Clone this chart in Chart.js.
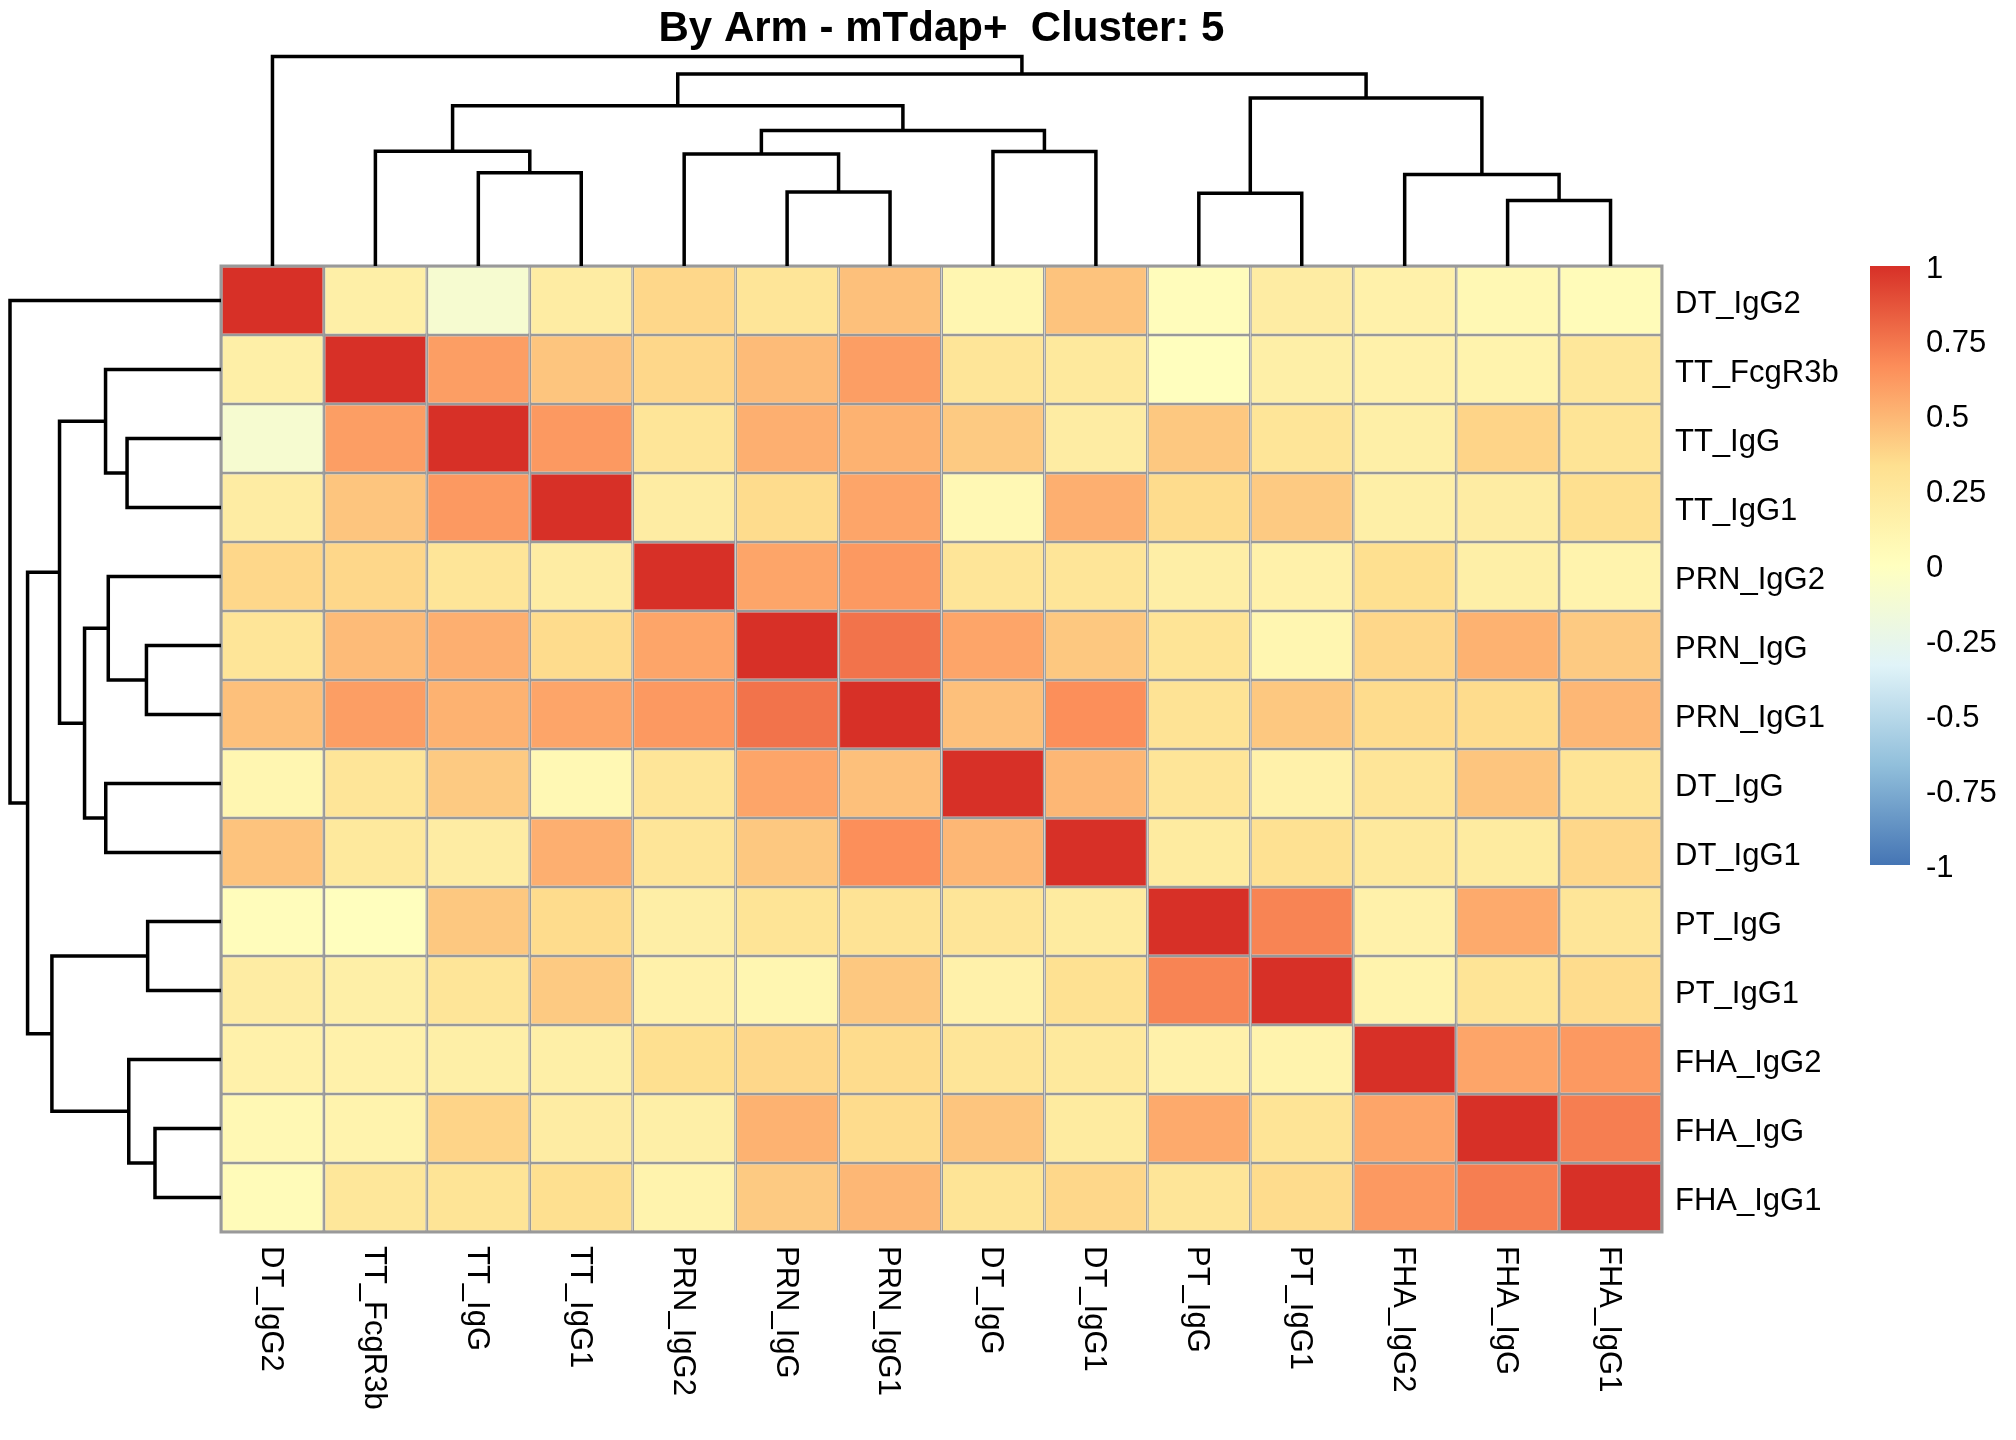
<!DOCTYPE html>
<html>
<head>
<meta charset="utf-8">
<script src="https://cdn.jsdelivr.net/npm/chart.js@4.4.1/dist/chart.umd.min.js"></script>
<style>
  html, body { margin: 0; padding: 0; background: #ffffff; }
  #wrap { position: relative; width: 2016px; height: 1440px; background: #ffffff; }
  #wrap canvas { position: absolute; left: 0; top: 0; }
</style>
</head>
<body>
<div id="wrap">
  <canvas id="heat" width="2016" height="1440"></canvas>
  <canvas id="dendTop" width="2016" height="290"></canvas>
  <canvas id="dendLeft" width="240" height="1440"></canvas>
</div>
<script>
// names, in clustered order (same for rows and columns)
var labels = ['DT_IgG2', 'TT_FcgR3b', 'TT_IgG', 'TT_IgG1', 'PRN_IgG2', 'PRN_IgG', 'PRN_IgG1',
  'DT_IgG', 'DT_IgG1', 'PT_IgG', 'PT_IgG1', 'FHA_IgG2', 'FHA_IgG', 'FHA_IgG1'];

// correlation matrix
var corr = [
  [1, 0.17, -0.1, 0.2, 0.37, 0.28, 0.46, 0.1, 0.45, 0.03, 0.2, 0.15, 0.08, 0.04],
  [0.17, 1, 0.6, 0.44, 0.37, 0.48, 0.6, 0.28, 0.24, 0.01, 0.17, 0.15, 0.13, 0.26],
  [-0.1, 0.6, 1, 0.62, 0.28, 0.53, 0.52, 0.42, 0.2, 0.43, 0.28, 0.17, 0.38, 0.29],
  [0.2, 0.44, 0.62, 1, 0.2, 0.35, 0.57, 0.08, 0.53, 0.35, 0.42, 0.17, 0.2, 0.33],
  [0.37, 0.37, 0.28, 0.2, 1, 0.57, 0.62, 0.28, 0.28, 0.18, 0.15, 0.33, 0.17, 0.13],
  [0.28, 0.48, 0.53, 0.35, 0.57, 1, 0.76, 0.57, 0.43, 0.29, 0.1, 0.37, 0.52, 0.42],
  [0.46, 0.6, 0.52, 0.57, 0.62, 0.76, 1, 0.46, 0.66, 0.3, 0.43, 0.35, 0.35, 0.5],
  [0.1, 0.28, 0.42, 0.08, 0.28, 0.57, 0.46, 1, 0.5, 0.28, 0.15, 0.28, 0.44, 0.29],
  [0.45, 0.24, 0.2, 0.53, 0.28, 0.43, 0.66, 0.5, 1, 0.22, 0.32, 0.24, 0.22, 0.37],
  [0.03, 0.01, 0.43, 0.35, 0.18, 0.29, 0.3, 0.28, 0.22, 1, 0.7, 0.15, 0.55, 0.28],
  [0.2, 0.17, 0.28, 0.42, 0.15, 0.1, 0.43, 0.15, 0.32, 0.7, 1, 0.13, 0.29, 0.35],
  [0.15, 0.15, 0.17, 0.17, 0.33, 0.37, 0.35, 0.28, 0.24, 0.15, 0.13, 1, 0.57, 0.62],
  [0.08, 0.13, 0.38, 0.2, 0.17, 0.52, 0.35, 0.44, 0.22, 0.55, 0.29, 0.57, 1, 0.72],
  [0.04, 0.26, 0.29, 0.33, 0.13, 0.42, 0.5, 0.29, 0.37, 0.28, 0.35, 0.62, 0.72, 1]
];

// hclust merges: ids 0-13 are leaves (order above), 14+k is merge k
var mergeLeft = [12, 9, 5, 11, 2, 4, 1, 7, 19, 20, 15, 23, 0];
var mergeRight = [13, 10, 6, 14, 3, 16, 18, 8, 21, 22, 17, 24, 25];
var mergeHeight = [0.657, 0.73, 0.742, 0.918, 0.935, 1.122, 1.149, 1.147, 1.358, 1.607, 1.683, 1.925, 2.10];

// legend
var legendTicks = [1, 0.75, 0.5, 0.25, 0, -0.25, -0.5, -0.75, -1];
var legendTickLabels = ['1', '0.75', '0.5', '0.25', '0', '-0.25', '-0.5', '-0.75', '-1'];

var titleText = 'By Arm - mTdap+  Cluster: 5';

// rev(RdYlBu) like pheatmap
var palette = ['#4575B4', '#91BFDB', '#E0F3F8', '#FFFFBF', '#FEE090', '#FC8D59', '#D73027'];

function hexToRgb(h) {
  return [parseInt(h.substr(1, 2), 16), parseInt(h.substr(3, 2), 16), parseInt(h.substr(5, 2), 16)];
}

function valueColor(v) {
  var t = (v + 1) / 2 * (palette.length - 1);
  var i = Math.max(0, Math.min(Math.floor(t), palette.length - 2));
  var f = t - i;
  var a = hexToRgb(palette[i]);
  var b = hexToRgb(palette[i + 1]);
  var c = a.map(function (x, k) { return Math.round(x + (b[k] - x) * f); });
  return 'rgb(' + c[0] + ',' + c[1] + ',' + c[2] + ')';
}

var FONT = '"Liberation Sans", Arial, sans-serif';

// ---------- heatmap ----------
var heatSets = labels.map(function (name, r) {
  return {
    label: name,
    data: labels.map(function () { return [r, r + 1]; }),
    backgroundColor: corr[r].map(valueColor),
    borderColor: '#999999',
    borderWidth: 1.5,
    borderSkipped: false,
    inflateAmount: 0,
    grouped: false,
    barPercentage: 1,
    categoryPercentage: 1
  };
});

var textPlugin = {
  id: 'heatText',
  afterDraw: function (chart) {
    var ctx = chart.ctx;
    var area = chart.chartArea;
    var xs = chart.scales.x;
    var ys = chart.scales.y;

    ctx.save();
    // outer border
    ctx.strokeStyle = '#999999';
    ctx.lineWidth = 3;
    ctx.strokeRect(area.left, area.top, area.right - area.left, area.bottom - area.top);

    ctx.fillStyle = '#000000';
    // title
    ctx.font = 'bold 42px ' + FONT;
    ctx.textAlign = 'center';
    ctx.textBaseline = 'middle';
    ctx.fillText(titleText, (area.left + area.right) / 2, 29);

    // row labels
    ctx.font = '31px ' + FONT;
    ctx.textAlign = 'left';
    ctx.textBaseline = 'middle';
    labels.forEach(function (name, r) {
      ctx.fillText(name, area.right + 13, ys.getPixelForValue(r + 0.5) + 4);
    });

    // column labels, turned clockwise
    labels.forEach(function (name, c) {
      ctx.save();
      ctx.translate(xs.getPixelForValue(c) - 2, area.bottom + 14);
      ctx.rotate(Math.PI / 2);
      ctx.fillText(name, 0, 0);
      ctx.restore();
    });

    // colour key
    var kx = 1870, kw = 40, ktop = area.top, kbot = 865;
    var grad = ctx.createLinearGradient(0, kbot, 0, ktop);
    palette.forEach(function (col, i) {
      grad.addColorStop(i / (palette.length - 1), col);
    });
    ctx.fillStyle = grad;
    ctx.fillRect(kx, ktop, kw, kbot - ktop);

    ctx.fillStyle = '#000000';
    ctx.font = '31px ' + FONT;
    legendTicks.forEach(function (v, i) {
      var y = ktop + (1 - v) / 2 * (kbot - ktop) + 3;
      ctx.fillText(legendTickLabels[i], kx + kw + 16, y);
    });
    ctx.restore();
  }
};

new Chart(document.getElementById('heat'), {
  type: 'bar',
  data: {
    labels: labels,
    datasets: heatSets
  },
  options: {
    responsive: false,
    animation: false,
    devicePixelRatio: 1,
    layout: { padding: { left: 221, right: 354, top: 266, bottom: 208 } },
    plugins: { legend: { display: false }, tooltip: { enabled: false } },
    scales: {
      x: { type: 'category', display: false, offset: true },
      y: { type: 'linear', display: false, min: 0, max: 14, reverse: true }
    }
  },
  plugins: [textPlugin]
});

// ---------- dendrograms ----------
var nodePos = labels.map(function (n, i) { return i + 0.5; });
var nodeHeight = labels.map(function () { return 0; });
mergeHeight.forEach(function (h, k) {
  nodePos.push((nodePos[mergeLeft[k]] + nodePos[mergeRight[k]]) / 2);
  nodeHeight.push(h);
});

function dendroSets(vertical) {
  return mergeHeight.map(function (h, k) {
    var l = mergeLeft[k], r = mergeRight[k];
    var pts = [
      [nodePos[l], nodeHeight[l]],
      [nodePos[l], h],
      [nodePos[r], h],
      [nodePos[r], nodeHeight[r]]
    ];
    return {
      data: pts.map(function (p) {
        return vertical ? { x: p[0], y: p[1] } : { x: p[1], y: p[0] };
      }),
      showLine: true,
      borderColor: '#000000',
      borderWidth: 3.5,
      pointRadius: 0,
      tension: 0,
      fill: false,
      clip: false
    };
  });
}

var maxH = mergeHeight[mergeHeight.length - 1];

new Chart(document.getElementById('dendTop'), {
  type: 'scatter',
  data: { datasets: dendroSets(true) },
  options: {
    responsive: false,
    animation: false,
    devicePixelRatio: 1,
    layout: { padding: { left: 221, right: 354, top: 56.5, bottom: 24 } },
    plugins: { legend: { display: false }, tooltip: { enabled: false } },
    scales: {
      x: { type: 'linear', display: false, min: 0, max: 14 },
      y: { type: 'linear', display: false, min: 0, max: maxH }
    }
  }
});

new Chart(document.getElementById('dendLeft'), {
  type: 'scatter',
  data: { datasets: dendroSets(false) },
  options: {
    responsive: false,
    animation: false,
    devicePixelRatio: 1,
    layout: { padding: { left: 10, right: 19, top: 266, bottom: 208 } },
    plugins: { legend: { display: false }, tooltip: { enabled: false } },
    scales: {
      x: { type: 'linear', display: false, min: 0, max: maxH, reverse: true },
      y: { type: 'linear', display: false, min: 0, max: 14, reverse: true }
    }
  }
});
</script>
</body>
</html>
